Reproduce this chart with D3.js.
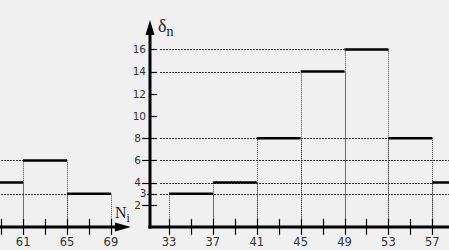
<!DOCTYPE html>
<html>
<head>
<meta charset="utf-8">
<script src="https://cdn.jsdelivr.net/npm/d3@7"></script>
<style>
body { margin: 0; background: #f0f0f0; }
svg { display: block; }
</style>
</head>
<body>
<svg width="449" height="250"></svg>
<script>
// histogram of N_i, bins of width 4
const binEdges = [33, 37, 41, 45, 49, 53, 57, 61, 65, 69];
const counts = [3, 4, 8, 14, 16, 8, 4, 6, 3];
const yTicks = [2, 3, 4, 6, 8, 10, 12, 14, 16];
const xLabels = [33, 37, 41, 45, 49, 53, 57, 61, 65, 69];
const xMinor = [35, 39, 43, 47, 51, 55, 59, 63, 67];

const svg = d3.select("svg");

const axisX = 150, axisY = 227;
const x = d3.scaleLinear().domain([33, 69]).range([169, 169 + 36 * 10.97]);
const y = d3.scaleLinear().domain([0, 16]).range([axisY, 49.4]);

function drawHistogram(g) {
    const dots = g.append("g")
        .attr("fill", "none");

    counts.forEach((c, i) => {
        const x0 = x(binEdges[i]), x1 = x(binEdges[i + 1]), yc = y(c);
        dots.append("line")
            .attr("x1", axisX + 10).attr("x2", x0)
            .attr("y1", Math.round(yc) + 0.5).attr("y2", Math.round(yc) + 0.5)
            .attr("stroke", "#333")
            .attr("stroke-dasharray", "2,1");
        [x0, x1].forEach(xe => {
            dots.append("line")
                .attr("x1", Math.round(xe) + 0.5).attr("x2", Math.round(xe) + 0.5)
                .attr("y1", yc).attr("y2", axisY)
                .attr("stroke", "#444")
                .attr("stroke-dasharray", "1,1");
        });
    });

    g.append("g").selectAll("line")
        .data(counts)
        .join("line")
        .attr("x1", (d, i) => x(binEdges[i]))
        .attr("x2", (d, i) => x(binEdges[i + 1]))
        .attr("y1", d => y(d))
        .attr("y2", d => y(d))
        .attr("stroke", "#000")
        .attr("stroke-width", 2.5);

    // x axis with arrow
    const xEnd = x(69) + 20;
    g.append("line")
        .attr("x1", axisX - 1.5).attr("x2", xEnd - 14)
        .attr("y1", axisY).attr("y2", axisY)
        .attr("stroke", "#000").attr("stroke-width", 3);
    g.append("path")
        .attr("d", `M${xEnd},${axisY} L${xEnd - 16},${axisY - 4.5} L${xEnd - 16},${axisY + 4.5} Z`)
        .attr("fill", "#000");

    g.append("g").selectAll("line")
        .data(xLabels.concat(xMinor))
        .join("line")
        .attr("x1", d => Math.round(x(d)) + 0.5)
        .attr("x2", d => Math.round(x(d)) + 0.5)
        .attr("y1", axisY - 8).attr("y2", axisY + 8)
        .attr("stroke", "#000").attr("stroke-width", 1.2);

    g.append("g").selectAll("text")
        .data(xLabels)
        .join("text")
        .attr("x", d => x(d))
        .attr("y", axisY + 19)
        .attr("text-anchor", "middle")
        .attr("font-family", "DejaVu Sans")
        .attr("font-size", 11.5)
        .attr("fill", "#333")
        .text(d => d);

    g.append("text")
        .attr("x", xEnd - 16).attr("y", axisY - 9)
        .attr("font-family", "Liberation Serif")
        .attr("font-size", 16)
        .attr("fill", "#222")
        .text("N")
        .append("tspan")
        .attr("font-size", 12)
        .attr("dy", 4)
        .text("i");

    // y axis with arrow
    const yTop = 20;
    g.append("line")
        .attr("x1", axisX).attr("x2", axisX)
        .attr("y1", axisY + 1.5).attr("y2", yTop + 12)
        .attr("stroke", "#000").attr("stroke-width", 3);
    g.append("path")
        .attr("d", `M${axisX},${yTop} L${axisX - 4.5},${yTop + 15} L${axisX + 4.5},${yTop + 15} Z`)
        .attr("fill", "#000");

    g.append("g").selectAll("line")
        .data(yTicks)
        .join("line")
        .attr("x1", d => d >= 10 ? axisX : (d === 3 ? axisX - 3 : axisX - 8))
        .attr("x2", axisX + 7)
        .attr("y1", d => Math.round(y(d)) + 0.5)
        .attr("y2", d => Math.round(y(d)) + 0.5)
        .attr("stroke", "#000").attr("stroke-width", 1.2);

    g.append("g").selectAll("text")
        .data(yTicks)
        .join("text")
        .attr("x", d => d >= 10 ? axisX - 4 : (d === 3 ? axisX - 3.5 : axisX - 9))
        .attr("y", d => y(d))
        .attr("dy", "0.36em")
        .attr("text-anchor", "end")
        .attr("font-family", "DejaVu Sans")
        .attr("font-size", 10.5)
        .attr("fill", "#333")
        .text(d => d);

    g.append("text")
        .attr("x", axisX + 8).attr("y", yTop + 12)
        .attr("font-family", "Liberation Serif")
        .attr("font-size", 18)
        .attr("fill", "#222")
        .text("δ")
        .append("tspan")
        .attr("font-size", 14)
        .attr("dy", 4)
        .text("n");
}

// the picture shows the same histogram twice: its right end, then the full chart
drawHistogram(svg.append("g").attr("transform", "translate(-453,0)"));
drawHistogram(svg.append("g"));
</script>
</body>
</html>
